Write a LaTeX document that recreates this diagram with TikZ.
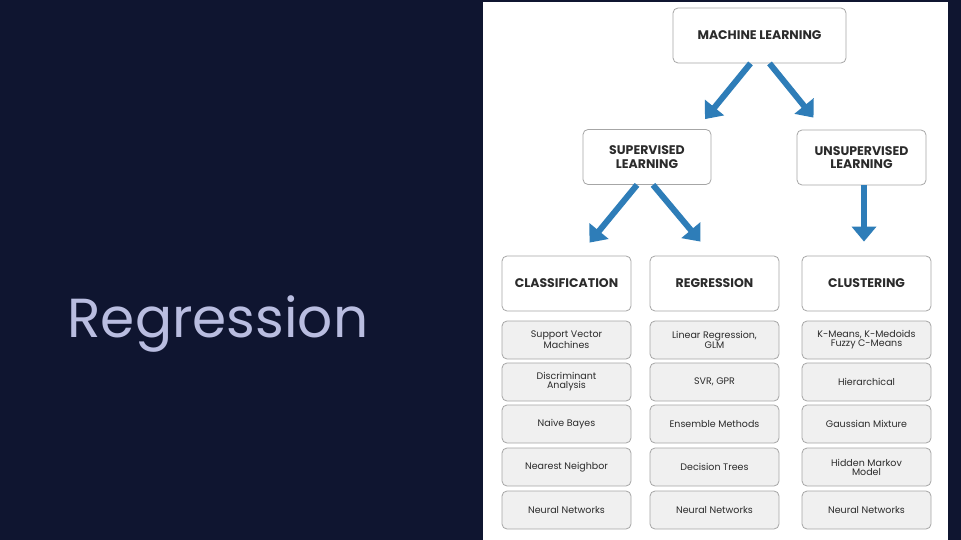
\documentclass[tikz,border=0pt]{standalone}
\usepackage{fontspec}
\setmainfont{Poppins}
\usetikzlibrary{positioning, arrows.meta}
\definecolor{navy}{HTML}{0F1530}
\definecolor{lav}{HTML}{B9BDE0}
\definecolor{arrblue}{HTML}{2E7DB8}
\definecolor{ink}{HTML}{2B2B2B}
\tikzset{
  head/.style = {draw=gray!70, rounded corners=5pt, fill=white, line width=0.8pt,
    minimum width=129pt, minimum height=55pt, align=center,
    font=\fontsize{12.5}{13.5}\selectfont\bfseries, text=ink},
  leaf/.style = {draw=gray!70, rounded corners=5pt, fill=gray!12, line width=0.8pt,
    minimum width=129pt, minimum height=38pt, align=center,
    font=\fontsize{9.5}{9}\selectfont, text=ink},
  arr/.style = {draw=arrblue, line width=6pt, -{Triangle[length=15pt, width=24pt]}}
}
\begin{document}
\begin{tikzpicture}[x=1pt, y=-1pt]
  \fill[navy] (0,0) rectangle (961,540);
  \fill[white] (483,2) rectangle (948,540);
  \useasboundingbox (0,0) rectangle (961,540);
  \node[text=lav, font=\fontsize{55}{55}\selectfont, anchor=west] (title) at (64,324) {Regression};
  % top levels
  \node[head, minimum width=173pt] (ml) at (759.5,35.5) {MACHINE LEARNING};
  \node[head, minimum width=128pt] (sup) at (647,157) {SUPERVISED\\LEARNING};
  \node[head] (uns) at (861.5,157.5) {UNSUPERVISED\\LEARNING};
  \node[head] (cla) at (566.5,283.5) {CLASSIFICATION};
  \node[head] (reg) at (714.5,283.5) {REGRESSION};
  \node[head] (clu) at (866.5,283.5) {CLUSTERING};
  % arrows
  \draw[arr] ([xshift=-9pt]ml.south) -- ([xshift=58pt, yshift=10pt]sup.north);
  \draw[arr] ([xshift=10pt]ml.south) -- ([xshift=-48pt, yshift=12pt]uns.north);
  \draw[arr] ([xshift=-10pt]sup.south) -- ([xshift=23pt, yshift=13pt]cla.north);
  \draw[arr] ([xshift=6pt]sup.south) -- ([xshift=-14pt, yshift=14pt]reg.north);
  \draw[arr] ([xshift=2.5pt]uns.south) -- ([xshift=-2.5pt, yshift=14pt]clu.north);
  % leaves
  \foreach \i/\y/\a/\b/\c in {
      1/340/{Support Vector\\Machines}/{Linear Regression,\\GLM}/{K-Means, K-Medoids\\Fuzzy C-Means},
      2/382/{Discriminant\\Analysis}/{SVR, GPR}/{Hierarchical},
      3/424/{Naive Bayes}/{Ensemble Methods}/{Gaussian Mixture},
      4/467/{Nearest Neighbor}/{Decision Trees}/{Hidden Markov\\Model},
      5/510/{Neural Networks}/{Neural Networks}/{Neural Networks}} {
    \node[leaf] (cla\i) at (566.5,\y) {\a};
    \node[leaf] (reg\i) at (714.5,\y) {\b};
    \node[leaf] (clu\i) at (866.5,\y) {\c};
  }
\end{tikzpicture}
\end{document}
